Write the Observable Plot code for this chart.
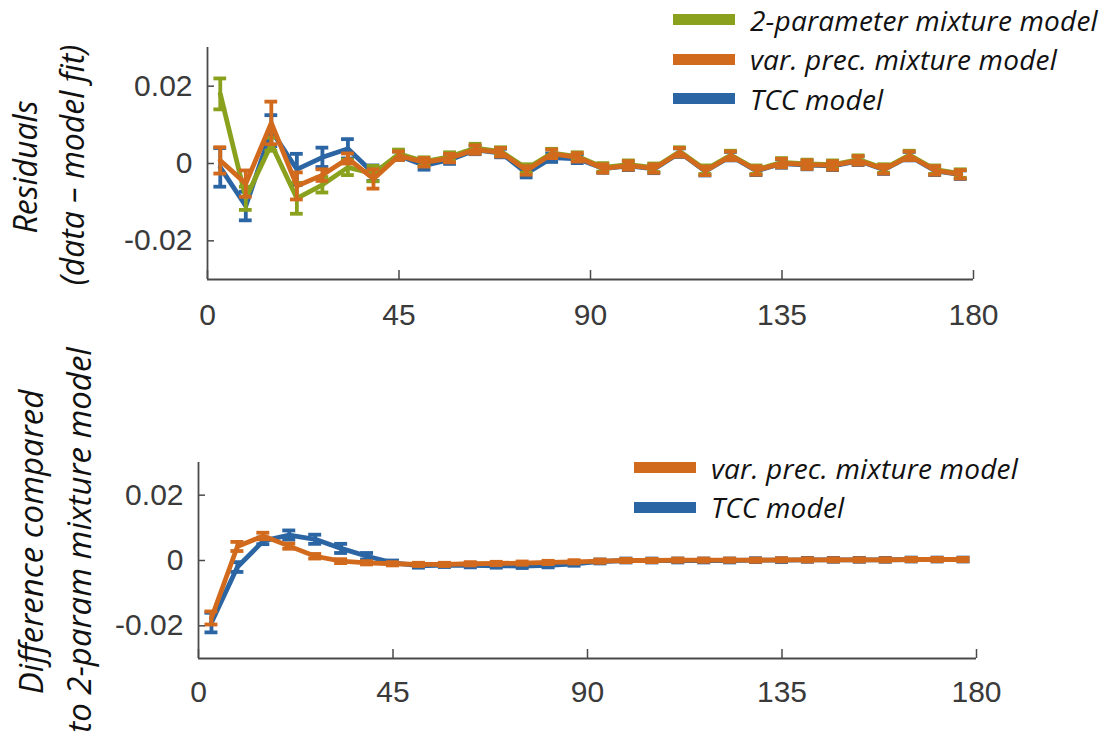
<!DOCTYPE html>
<html>
<head>
<meta charset="utf-8">
<script src="https://cdn.jsdelivr.net/npm/d3@7"></script>
<script src="https://cdn.jsdelivr.net/npm/@observablehq/plot@0.6"></script>
<style>
  body { margin: 0; background: #fff; }
  #wrap { position: relative; width: 1113px; height: 740px; overflow: hidden; background: #fff; }
  .panel { position: absolute; left: 0; }
  .ytitle { position: absolute; font-family: "Open Sans", Lato, sans-serif; font-style: italic; font-size: 32px; color: #111;
            white-space: nowrap; transform: translate(-50%, -50%) rotate(-90deg); line-height: 1; }
  .ytitle.big { font-size: 33px; }
  .legend { position: absolute; font-family: "Open Sans", Lato, sans-serif; font-style: italic; font-size: 28px; letter-spacing: 0.2px; color: #111; }
  .legend .row { display: flex; align-items: center; height: 39.5px; white-space: nowrap; }
  .legend .sw { width: 62px; height: 11px; margin-right: 15px; }
</style>
</head>
<body>
<div id="wrap"></div>
<script>
// ---- data ----
const bins = [3, 9, 15, 21, 27, 33, 39, 45, 51, 57, 63, 69, 75, 81, 87, 93, 99, 105, 111, 117, 123, 129, 135, 141, 147, 153, 159, 165, 171, 177];
const xTicks = [0, 45, 90, 135, 180];
const yTicks = [-0.02, 0, 0.02];

const seriesNames = ["2-parameter mixture model", "var. prec. mixture model", "TCC model"];
const seriesColors = ["#8AA11E", "#D26A1D", "#2B65A3"];

// top panel: residuals (data - model fit)
const greenTop = [0.018, -0.009, 0.005, -0.009, -0.0055, -0.001, -0.0026, 0.0025, 0.0005, 0.0018, 0.004, 0.0031, -0.0013, 0.0027, 0.0018, -0.001, -0.0003, -0.0011, 0.0031, -0.0016, 0.0022, -0.0016, 0.0003, -0.0001, -0.0003, 0.001, -0.0013, 0.0022, -0.0016, -0.0026];
const greenTopErr = [0.004, 0.003, 0.0017, 0.004, 0.002, 0.002, 0.002, 0.0011, 0.0011, 0.0011, 0.0011, 0.0011, 0.0011, 0.0011, 0.0011, 0.0011, 0.0011, 0.0011, 0.0011, 0.0011, 0.0011, 0.0011, 0.0011, 0.0011, 0.0011, 0.0011, 0.0011, 0.0011, 0.0011, 0.0011];
const orangeTop = [0.0008, -0.0052, 0.0105, -0.0058, -0.003, 0.0013, -0.004, 0.002, 0.0003, 0.0014, 0.0036, 0.0029, -0.0018, 0.0025, 0.0016, -0.0013, -0.0005, -0.0013, 0.0029, -0.0019, 0.002, -0.0018, 0.0001, -0.0003, -0.0005, 0.0008, -0.0015, 0.002, -0.0018, -0.0028];
const orangeTopErr = [0.0034, 0.0034, 0.0055, 0.0035, 0.0015, 0.0013, 0.0025, 0.0011, 0.0011, 0.0011, 0.0011, 0.0011, 0.0011, 0.0011, 0.0011, 0.0011, 0.0011, 0.0011, 0.0011, 0.0011, 0.0011, 0.0011, 0.0011, 0.0011, 0.0011, 0.0011, 0.0011, 0.0011, 0.0011, 0.0011];
const blueTop = [-0.001, -0.011, 0.0085, -0.0015, 0.0016, 0.0038, -0.0025, 0.002, -0.0005, 0.001, 0.0035, 0.0027, -0.0025, 0.0015, 0.0012, -0.0013, -0.0006, -0.0014, 0.0028, -0.002, 0.0019, -0.0019, 0.0, -0.0004, -0.0006, 0.0007, -0.0016, 0.0019, -0.0019, -0.0029];
const blueTopErr = [0.005, 0.0037, 0.004, 0.004, 0.0025, 0.0025, 0.002, 0.0011, 0.0011, 0.0011, 0.0011, 0.0011, 0.0011, 0.0011, 0.0011, 0.0011, 0.0011, 0.0011, 0.0011, 0.0011, 0.0011, 0.0011, 0.0011, 0.0011, 0.0011, 0.0011, 0.0011, 0.0011, 0.0011, 0.0011];

// bottom panel: difference compared to 2-param mixture model
const orangeBot = [-0.0176, 0.0043, 0.0075, 0.0044, 0.0013, -0.0002, -0.0007, -0.001, -0.0012, -0.0012, -0.001, -0.0009, -0.0008, -0.0006, -0.0004, -0.0002, 0, 0, 0.0001, 0.0001, 0.0001, 0.0001, 0.0002, 0.0002, 0.0002, 0.0002, 0.0002, 0.0003, 0.0003, 0.0003];
const orangeBotErr = [0.002, 0.0014, 0.001, 0.0008, 0.0007, 0.0006, 0.0005, 0.0005, 0.0005, 0.0005, 0.0005, 0.0005, 0.0005, 0.0005, 0.0005, 0.0005, 0.0005, 0.0005, 0.0005, 0.0005, 0.0005, 0.0005, 0.0005, 0.0005, 0.0005, 0.0005, 0.0005, 0.0005, 0.0005, 0.0005];
const blueBot = [-0.019, -0.002, 0.006, 0.0078, 0.0065, 0.0037, 0.0013, -0.0007, -0.0016, -0.0014, -0.0015, -0.0016, -0.0017, -0.0015, -0.001, -0.0003, 0, 0, 0, 0, 0, 0.0001, 0.0001, 0.0002, 0.0002, 0.0002, 0.0002, 0.0003, 0.0003, 0.0003];
const blueBotErr = [0.003, 0.0015, 0.001, 0.0014, 0.0014, 0.0014, 0.001, 0.0007, 0.0006, 0.0006, 0.0006, 0.0006, 0.0006, 0.0006, 0.0006, 0.0006, 0.0006, 0.0006, 0.0006, 0.0006, 0.0006, 0.0006, 0.0006, 0.0006, 0.0006, 0.0006, 0.0006, 0.0006, 0.0006, 0.0006];

// ---- build ----
const rows = (vals, errs) => bins.map((b, i) => ({x: b, y: vals[i], e: errs[i]}));
const axisColor = "#4a4a4a";
const textColor = "#3a3a3a";

function seriesMarks(data, color) {
  const cap = 1.5;
  return [
    Plot.line(data, {x: "x", y: "y", stroke: color, strokeWidth: 4.8, strokeLinejoin: "round"}),
    Plot.ruleX(data, {x: "x", y1: d => d.y - d.e, y2: d => d.y + d.e, stroke: color, strokeWidth: 3.8}),
    Plot.ruleY(data, {y: d => d.y - d.e, x1: d => d.x - cap, x2: d => d.x + cap, stroke: color, strokeWidth: 3.8}),
    Plot.ruleY(data, {y: d => d.y + d.e, x1: d => d.x - cap, x2: d => d.x + cap, stroke: color, strokeWidth: 3.8})
  ];
}

function panel({series, height, marginTop, marginBottom, marginLeft, marginRight, xPad}) {
  const yDom = [-0.03, 0.03];
  const plotH = height - marginTop - marginBottom;
  const plotW = 1113 - marginLeft - marginRight;
  const xTickLen = (yDom[1] - yDom[0]) * 9 / plotH;
  const yTickLen = 180 * 7 / plotW;
  return Plot.plot({
    width: 1113, height, marginTop, marginBottom, marginLeft, marginRight,
    style: {fontFamily: "'Liberation Sans', Arial, sans-serif", fontSize: "30px", color: textColor, background: "transparent"},
    x: {domain: [0, 180], label: null},
    y: {domain: yDom, label: null},
    marks: [
      ...series.flatMap(s => seriesMarks(s.data, s.color)),
      Plot.ruleX([0], {stroke: axisColor, strokeWidth: 1.8}),
      Plot.ruleY([yDom[0]], {stroke: axisColor, strokeWidth: 1.8}),
      Plot.ruleX(xTicks, {x: d => d, y1: yDom[0], y2: yDom[0] + xTickLen, stroke: axisColor, strokeWidth: 1.5}),
      Plot.ruleY(yTicks, {y: d => d, x1: 0, x2: yTickLen, stroke: axisColor, strokeWidth: 1.5}),
      Plot.axisX({ticks: xTicks, tickSize: 0, tickPadding: xPad, tickFormat: d => String(d), fill: textColor, fontSize: 30}),
      Plot.axisY({ticks: yTicks, tickSize: 0, tickPadding: 15, tickFormat: d => d === 0 ? "0" : d.toFixed(2), fill: textColor, fontSize: 30})
    ]
  });
}

const wrap = document.getElementById("wrap");

const top1 = panel({
  series: [
    {data: rows(blueTop, blueTopErr), color: seriesColors[2]},
    {data: rows(greenTop, greenTopErr), color: seriesColors[0]},
    {data: rows(orangeTop, orangeTopErr), color: seriesColors[1]}
  ],
  height: 340, marginTop: 47, marginBottom: 61, marginLeft: 207, marginRight: 140, xPad: 24
});
top1.classList.add("panel"); top1.style.top = "0px";
wrap.appendChild(top1);

const bot1 = panel({
  series: [
    {data: rows(blueBot, blueBotErr), color: seriesColors[2]},
    {data: rows(orangeBot, orangeBotErr), color: seriesColors[1]}
  ],
  height: 400, marginTop: 122, marginBottom: 82, marginLeft: 198, marginRight: 137, xPad: 22
});
bot1.classList.add("panel"); bot1.style.top = "340px";
wrap.appendChild(bot1);

// y-axis titles
function ytitle(text, cx, cy, big) {
  const d = document.createElement("div");
  d.className = "ytitle" + (big ? " big" : "");
  d.textContent = text;
  d.style.left = cx + "px";
  d.style.top = cy + "px";
  wrap.appendChild(d);
}
ytitle("Residuals", 25, 167);
ytitle("(data \u2013 model fit)", 72, 165);
ytitle("Difference compared", 30, 542, true);
ytitle("to 2-param mixture model", 78, 540, true);

// legends
function legend(items, left, top) {
  const lg = document.createElement("div");
  lg.className = "legend";
  lg.style.left = left + "px";
  lg.style.top = top + "px";
  for (const it of items) {
    const r = document.createElement("div");
    r.className = "row";
    const sw = document.createElement("div");
    sw.className = "sw";
    sw.style.background = it.color;
    const t = document.createElement("span");
    t.textContent = it.name;
    r.appendChild(sw); r.appendChild(t);
    lg.appendChild(r);
  }
  wrap.appendChild(lg);
}
legend(seriesNames.map((n, i) => ({name: n, color: seriesColors[i]})), 673, 0);
legend([1, 2].map(i => ({name: seriesNames[i], color: seriesColors[i]})), 634, 448);
</script>
</body>
</html>
